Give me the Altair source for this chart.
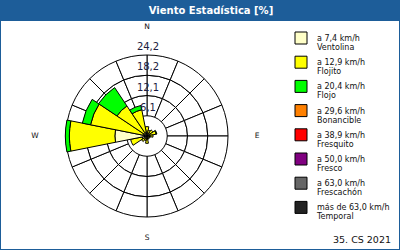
import altair as alt
import pandas as pd

# ---------------- data ----------------
directions = ["N", "NNE", "NE", "ENE", "E", "ESE", "SE", "SSE",
              "S", "SSW", "SW", "WSW", "W", "WNW", "NW", "NNW"]
classes = ["Ventolina", "Flojito", "Flojo", "Bonancible",
           "Fresquito", "Fresco", "Frescachón", "Temporal"]
limits = ["a 7,4 km/h", "a 12,9 km/h", "a 20,4 km/h", "a 29,6 km/h",
          "a 38,9 km/h", "a 50,0 km/h", "a 63,0 km/h", "más de 63,0 km/h"]
colors = ["#FFFFC8", "#FFFF00", "#00FF00", "#FF8000",
          "#FF0000", "#800080", "#666666", "#222222"]

ventolina  = [1.0, 0.8, 1.0, 1.0, 0.8, 0.6, 0.6, 0.6, 1.0, 0.8, 1.0, 1.5, 9.6, 1.2, 1.0, 1.2]
flojito    = [1.8, 1.0, 1.2, 1.8, 1.0, 0.4, 0.3, 0.4, 1.2, 0.6, 1.0, 3.5, 13.6, 16.0, 9.8, 6.8]
flojo      = [0.0, 0.0, 0.0, 0.2, 0.0, 0.0, 0.0, 0.0, 0.0, 0.0, 0.0, 0.0, 1.2, 2.5, 6.6, 1.3]
bonancible = [0.0] * 0 + [0, 0, 0, 0, 0, 0, 0, 0, 0, 0, 0, 0, 0, 0, 0, 0]
fresquito  = [0, 0, 0, 0, 0, 0, 0, 0, 0, 0, 0, 0, 0, 0, 0, 0]
fresco     = [0, 0, 0, 0, 0, 0, 0, 0, 0, 0, 0, 0, 0, 0, 0, 0]
frescachon = [0, 0, 0, 0, 0, 0, 0, 0, 0, 0, 0, 0, 0, 0, 0, 0]
temporal   = [0, 0, 0, 0, 0, 0, 0, 0, 0, 0, 0, 0, 0, 0, 0, 0]

ring_values = [6.05, 12.1, 18.15, 24.2]
ring_labels = ["6,1", "12,1", "18,2", "24,2"]

# ---------------- tables ----------------
series = [ventolina, flojito, flojo, bonancible, fresquito, fresco, frescachon, temporal]
step = 360 / len(directions)
rows = []
for i, d in enumerate(directions):
    cum = 0.0
    for c, vals in zip(classes, series):
        v = vals[i]
        if v > 0:
            rows.append({"dir": d, "cls": c,
                         "t0": i * step - step / 2, "t1": i * step + step / 2,
                         "r0": cum, "r1": cum + v})
            cum += v
wedge_df = pd.DataFrame(rows)

grid_rows = []
for i in range(len(directions)):
    for k in range(len(ring_values) - 1):
        grid_rows.append({"t0": i * step, "t1": (i + 1) * step,
                          "r0": ring_values[k], "r1": ring_values[k + 1]})
grid_df = pd.DataFrame(grid_rows)
ring_df = pd.DataFrame({"r": ring_values, "label": ring_labels})
leg_df = pd.DataFrame({"idx": list(range(len(classes))), "cls": classes, "lim": limits})

# ---------------- layout ----------------
CX, CY = 147, 136
FONT = "DejaVu Sans"
theta_scale = alt.Scale(domain=[0, 360], range=[0, 6.283185307179586])
r_scale = alt.Scale(type="linear", domain=[0, 24.2], range=[0, 81], zero=True, nice=False)
color_scale = alt.Scale(domain=classes, range=colors)

grid = alt.Chart(grid_df).mark_arc(fill="white", stroke="black", strokeWidth=1).encode(
    x=alt.value(CX), y=alt.value(CY),
    theta=alt.Theta("t0:Q", scale=theta_scale, stack=None), theta2="t1:Q",
    radius=alt.Radius("r1:Q", scale=r_scale), radius2="r0:Q",
)

wedges = alt.Chart(wedge_df).mark_arc(stroke="black", strokeWidth=1).encode(
    x=alt.value(CX), y=alt.value(CY),
    theta=alt.Theta("t0:Q", scale=theta_scale, stack=None), theta2="t1:Q",
    radius=alt.Radius("r1:Q", scale=r_scale), radius2="r0:Q",
    fill=alt.Fill("cls:N", scale=color_scale, legend=None),
)

ring_text = alt.Chart(ring_df).mark_text(
    font=FONT, fontSize=10, color="#202040", baseline="middle", align="center", dy=-8, dx=1
).encode(
    x=alt.value(CX), y=alt.value(CY),
    theta=alt.value(0),
    radius=alt.Radius("r:Q", scale=r_scale),
    text="label:N",
)

one = pd.DataFrame({"a": [0]})
compass = []
for lab, th, rad in [("N", 0, 109), ("E", 1.5707963, 110), ("S", 3.1415927, 102), ("W", 4.712389, 112)]:
    compass.append(
        alt.Chart(one).mark_text(text=lab, font=FONT, fontSize=7.5, color="#111111",
                                 baseline="middle", align="center",
                                 theta=th, radius=rad).encode(x=alt.value(CX), y=alt.value(CY))
    )

title_bar = alt.Chart(one).mark_rect(color="#1D5D99").encode(
    x=alt.value(0), x2=alt.value(400), y=alt.value(0), y2=alt.value(21))
title_text = alt.Chart(one).mark_text(
    text="Viento Estadística [%]", font=FONT, fontSize=10, fontWeight="bold",
    color="white", baseline="middle", align="center").encode(x=alt.value(211), y=alt.value(11))

leg_y = alt.Y("idx:Q", scale=alt.Scale(domain=[0, 7], range=[38, 207.4], nice=False, zero=False), axis=None)
leg_sq = alt.Chart(leg_df).mark_square(size=144, stroke="black", strokeWidth=1, opacity=1).encode(
    x=alt.value(301), y=leg_y, fill=alt.Fill("cls:N", scale=color_scale, legend=None))
leg_t1 = alt.Chart(leg_df).mark_text(font=FONT, fontSize=8, color="#111111", align="left",
                                     baseline="middle", dy=1).encode(
    x=alt.value(317), y=leg_y, text="lim:N")
leg_t2 = alt.Chart(leg_df).mark_text(font=FONT, fontSize=8, color="#111111", align="left",
                                     baseline="middle", dy=10).encode(
    x=alt.value(317), y=leg_y, text="cls:N")

footer = alt.Chart(one).mark_text(
    text="35. CS 2021", font=FONT, fontSize=9.5, color="#111111",
    baseline="middle", align="right").encode(x=alt.value(391), y=alt.value(240))

chart = alt.layer(
    grid, wedges, ring_text, *compass, title_bar, title_text, leg_sq, leg_t1, leg_t2, footer
).properties(
    width=400, height=250, padding=0, autosize="none", background="white"
).configure_view(stroke="#1D5D99", strokeWidth=2)

chart.save("out.html", embed_options={"renderer": "svg", "actions": False})
